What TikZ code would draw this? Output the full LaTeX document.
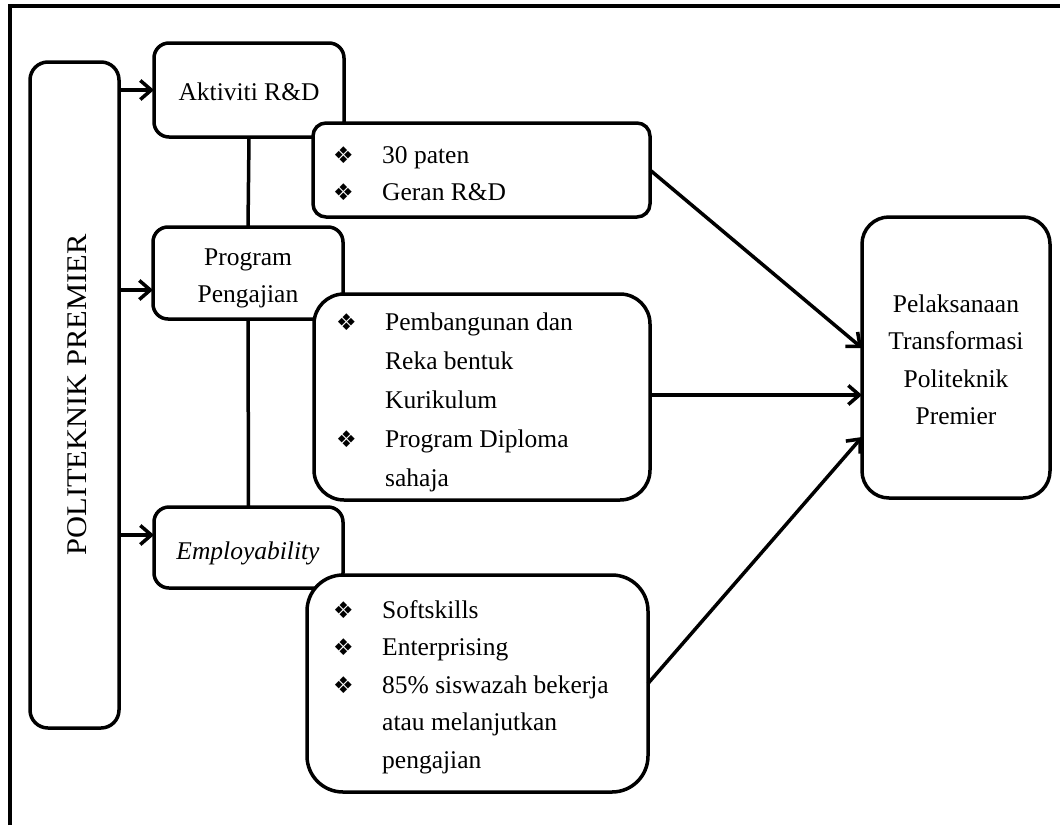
\documentclass[tikz,border=0pt]{standalone}
\usepackage{fontspec}
\setmainfont{Liberation Serif}
\newfontfamily\dejavu{DejaVu Sans}
\usetikzlibrary{arrows.meta,calc}
\newcommand\bul{{\dejavu\fontsize{23}{23}\selectfont ❖}}
\tikzset{
  box/.style={draw, line width=3.5pt, fill=white, rounded corners=#1, inner sep=0pt, outer sep=0pt, anchor=north west},
  box/.default=15pt,
  txt/.style={font=\fontsize{25.5}{37.5}\selectfont, inner sep=0pt, align=center},
  conn/.style={line width=3.5pt},
  arr/.style={line width=3.5pt, -{Straight Barb[length=11pt,width=19pt,line width=3.5pt]}},
}
\begin{document}
\begin{tikzpicture}[x=1pt,y=-1pt]
\useasboundingbox (0,0) rectangle (1060,825);
% frame
\draw[conn] (10,825) -- (10,6) -- (1060,6);

% left tall box
\node[box=18pt, minimum width=89pt, minimum height=666pt] (pol) at (30,62) {};
\node[txt, rotate=90, font=\fontsize{28.5}{30}\selectfont] at ([xshift=3pt]pol.center) {\scalebox{1.07}[1]{POLITEKNIK PREMIER}};

% middle column
\node[box, minimum width=190pt, minimum height=94pt] (akt) at (154,43) {};
\node[txt, anchor=base] at (249,100) {Aktiviti R\&D};

\node[box, minimum width=190pt, minimum height=92pt] (prog) at (153,227) {};
\node[txt, anchor=base] at (248,265) {\begin{tabular}[t]{@{}c@{}}Program\\Pengajian\end{tabular}};

\node[box, minimum width=189pt, minimum height=81pt] (emp) at (154,507) {};
\node[txt, anchor=base] at (248,559) {\itshape Employability};

% connectors of middle column
\draw[conn] (akt.south) -- (prog.north);
\draw[conn] (prog.south) -- (emp.north);

% detail boxes
\node[box=13pt, minimum width=337pt, minimum height=94pt] (pat) at (313,123) {};
\node[txt, anchor=base west] at (333,163) {\begin{tabular}[t]{@{}p{49pt}@{}l@{}}\bul & 30 paten\\ \bul & Geran R\&D\end{tabular}};

\node[box=30pt, minimum width=336pt, minimum height=206pt] (pem) at (314,294) {};
\node[txt, anchor=base west, font=\fontsize{25.5}{39}\selectfont] at (336,330) {\begin{tabular}[t]{@{}p{49pt}@{}l@{}}\bul & Pembangunan dan\\ & Reka bentuk\\ & Kurikulum\\ \bul & Program Diploma\\ & sahaja\end{tabular}};

\node[box=36pt, minimum width=341pt, minimum height=217pt] (soft) at (307,575) {};
\node[txt, anchor=base west] at (333,618) {\begin{tabular}[t]{@{}p{49pt}@{}l@{}}\bul & Softskills\\ \bul & Enterprising\\ \bul & 85\% siswazah bekerja\\ & atau melanjutkan\\ & pengajian\end{tabular}};

% target box
\node[box=27pt, minimum width=188pt, minimum height=281pt] (pel) at (862,217) {};
\node[txt, anchor=base] at (956,312) {\begin{tabular}[t]{@{}c@{}}Pelaksanaan\\Transformasi\\Politeknik\\Premier\end{tabular}};

% arrows from left box
\draw[arr] (pol.east |- akt.west) -- (akt.west);
\coordinate (progin) at ([yshift=-17pt]prog.west);
\draw[arr] (pol.east |- progin) -- (progin);
\coordinate (empin) at ([yshift=12.5pt]emp.west);
\draw[arr] (pol.east |- empin) -- (empin);

% arrows to target
\coordinate (pel1) at ([yshift=9.5pt]pel.west);
\coordinate (pel2) at ([yshift=-37.5pt]pel.west);
\coordinate (pel3) at ([yshift=-79.5pt]pel.west);
\draw[arr] (pat.east) -- (pel1);
\draw[arr] (pem.east |- pel2) -- (pel2);
\draw[arr] (soft.east) -- (pel3);
\end{tikzpicture}
\end{document}
